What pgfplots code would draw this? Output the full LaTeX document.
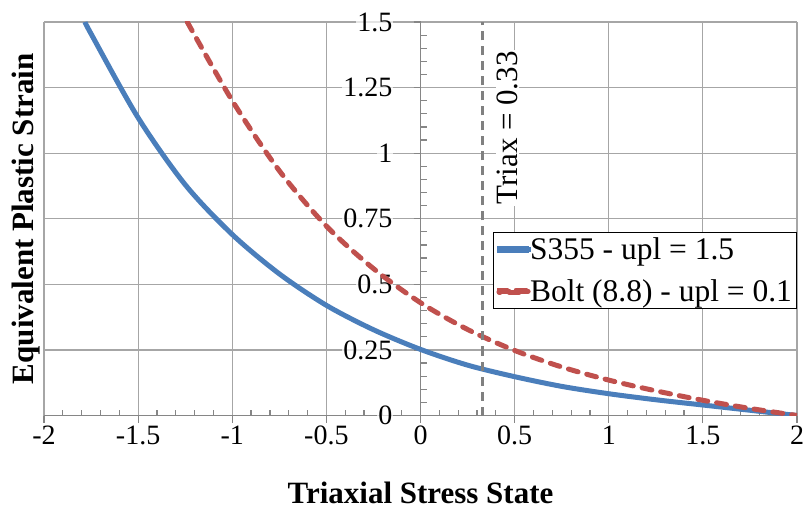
\documentclass[border=0pt]{standalone}
\usepackage{fontspec}
\setmainfont{Liberation Serif}
\usepackage{pgfplots}
\pgfplotsset{compat=1.18}
\definecolor{s355}{RGB}{74,126,187}
\definecolor{bolt}{RGB}{192,80,77}
\definecolor{gridgray}{RGB}{166,166,166}
\definecolor{axisgray}{RGB}{134,134,134}
\definecolor{triax}{RGB}{128,128,128}
\newcommand{\tickfont}{\fontsize{28}{30}\selectfont}
% tick labels go above the curves (they carry a see-through white box)
\pgfplotsset{layers/tickstop/.define layer set={axis background,axis grid,axis ticks,axis lines,main,axis tick labels,axis descriptions,axis foreground}{}}

\begin{document}
\begin{tikzpicture}
\begin{axis}[
  set layers=tickstop,
  scale only axis, width=753pt, height=393.5pt,
  xmin=-2, xmax=2, ymin=0, ymax=1.5,
  axis x line*=bottom, axis y line*=middle,
  axis line style={draw=axisgray, line width=1.3pt},
  xtick={-2,-1.5,-1,-0.5,0,0.5,1,1.5,2},
  xticklabels={-2,-1.5,-1,-0.5,0,0.5,1,1.5,2},
  ytick={0,0.25,0.5,0.75,1,1.25,1.5},
  yticklabels={0,0.25,0.5,0.75,1,1.25,1.5},
  minor x tick num=4, minor y tick num=4,
  hide obscured x ticks=false, hide obscured y ticks=false,
  grid=major, major grid style={draw=gridgray, line width=1.2pt},
  tick align=outside, major tick length=7pt, minor tick length=6pt,
  tick style={draw=axisgray, line width=1.2pt},
  minor x tick style={yshift=6pt}, minor y tick style={xshift=6pt},
  xticklabel style={font=\tickfont},
  yticklabel style={font=\tickfont, anchor=east, xshift=-20pt, fill=white, fill opacity=0.7, text opacity=1, inner sep=1pt},
  xlabel={\textbf{Triaxial Stress State}},
  ylabel={\textbf{Equivalent Plastic Strain}},
  xlabel style={font=\fontsize{31}{33}\selectfont, at={(axis description cs:0.5,-0.196)}, anchor=center},
  ylabel style={font=\fontsize{31}{33}\selectfont, at={(axis description cs:-0.0146,0.5)}, anchor=base},
  legend style={at={(axis description cs:1,0.466)}, anchor=north east, draw=black, line width=1pt,
    fill=white, font=\fontsize{31.5}{34}\selectfont, inner xsep=3pt, inner ysep=4pt, row sep=15pt,
    nodes={inner sep=1.5pt}},
  legend cell align=left,
  legend image code/.code={\path[use as bounding box] (0pt,-1pt) rectangle (27pt,1pt);
    \draw[#1] (0pt,0pt) -- (32pt,0pt);},
]
\addplot[s355, line width=5pt, smooth] coordinates {
(-1.782,1.5) (-1.75,1.455) (-1.5,1.135) (-1.25,0.88) (-1.0,0.69) (-0.75,0.54) (-0.5,0.42)
(-0.25,0.327) (0,0.252) (0.25,0.192) (0.5,0.148) (0.75,0.111) (1.0,0.083) (1.25,0.06)
(1.5,0.04) (1.75,0.02) (2.0,0)};
\addlegendentry{S355 - upl = 1.5}
\addplot[bolt, line width=5pt, line cap=round, dash pattern=on 10pt off 9pt, smooth] coordinates {
(-1.239,1.5) (-1.0,1.2) (-0.75,0.933) (-0.5,0.722) (-0.25,0.56) (0,0.43) (0.25,0.328)
(0.5,0.248) (0.75,0.185) (1.0,0.135) (1.25,0.094) (1.5,0.058) (1.75,0.027) (2.0,0)};
\addlegendentry{Bolt (8.8) - upl = 0.1}
\addplot[triax, line width=3pt, dash pattern=on 9pt off 6pt, forget plot] coordinates {(0.33,0) (0.33,1.5)};
\node[rotate=90, anchor=north east, fill=white, inner sep=1pt, font=\fontsize{31}{33}\selectfont]
  at ([xshift=13pt]axis cs:0.33,1.393) {Triax = 0.33};
\end{axis}
\pgfresetboundingbox
\path[use as bounding box] (-44pt,-98.5pt) rectangle (764pt,415.5pt);
\end{tikzpicture}
\end{document}
